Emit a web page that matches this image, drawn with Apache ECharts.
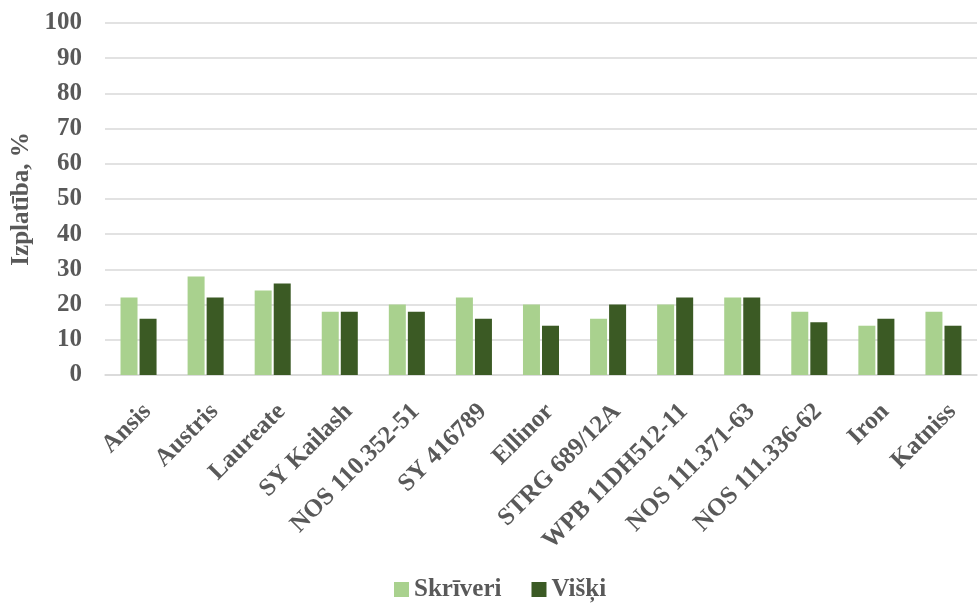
<!DOCTYPE html>
<html><head><meta charset="utf-8">
<script src="https://cdn.jsdelivr.net/npm/echarts@6/dist/echarts.min.js"></script>
<style>html,body{margin:0;padding:0;background:#fff}#c{width:978px;height:607px}</style>
</head><body><div id="c"></div>
<script>
var categories = ["Ansis","Austris","Laureate","SY Kailash","NOS 110.352-51","SY 416789","Ellinor","STRG 689/12A","WPB 11DH512-11","NOS 111.371-63","NOS 111.336-62","Iron","Katniss"];
var skriveri = [22,28,24,18,20,22,20,16,20,22,18,14,18];
var viski = [16,22,26,18,18,16,14,20,22,22,15,16,14];
var yTicks = {min:0, max:100, interval:10};
var font = '"Liberation Serif","Times New Roman",serif';
var chart = echarts.init(document.getElementById('c'), null, {renderer:'canvas'});
chart.setOption({
  animation:false,
  grid:{left:105, right:1, top:23, bottom:232, containLabel:false},
  legend:{bottom:0, left:389, itemWidth:15, itemHeight:15, itemGap:30,
    icon:'rect',
    textStyle:{fontFamily:font, fontWeight:'bold', fontSize:25, color:'#595959'},
    data:['Skrīveri','Višķi']},
  xAxis:{type:'category', data:categories,
    axisLine:{lineStyle:{color:'#d9d9d9', width:1.5}},
    axisTick:{show:false},
    axisLabel:{rotate:45, interval:0, margin:24, verticalAlign:'top', fontFamily:font, fontWeight:'bold', fontSize:25, color:'#595959'}},
  yAxis:{type:'value', min:yTicks.min, max:yTicks.max, interval:yTicks.interval,
    name:'Izplatība, %', nameLocation:'middle', nameGap:70, nameRotate:90,
    nameTextStyle:{fontFamily:font, fontWeight:'bold', fontSize:25, color:'#595959'},
    axisLine:{show:false}, axisTick:{show:false},
    axisLabel:{fontFamily:font, fontWeight:'bold', fontSize:25, color:'#595959', margin:23},
    splitLine:{lineStyle:{color:'#d9d9d9', width:1.5}}},
  series:[
    {name:'Skrīveri', type:'bar', data:skriveri, barWidth:17, barGap:'12%', itemStyle:{color:'#a9d18e'}},
    {name:'Višķi', type:'bar', data:viski, barWidth:17, itemStyle:{color:'#3b5a24'}}
  ]
});
</script></body></html>
